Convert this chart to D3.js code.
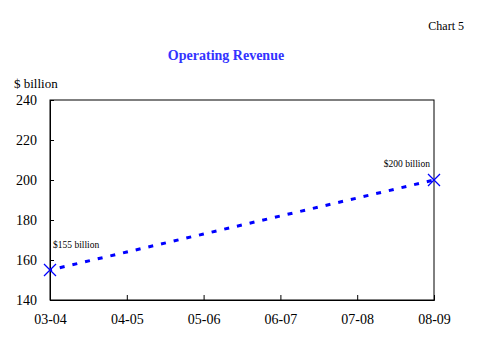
<!DOCTYPE html>
<html>
<head>
<meta charset="utf-8">
<script src="https://cdn.jsdelivr.net/npm/d3@7"></script>
<style>
  body { margin: 0; background: #fff; }
  svg text { font-family: "Liberation Serif", "Times New Roman", serif; }
</style>
</head>
<body>
<svg class="chart-svg" width="492" height="351"></svg>
<script>
// chart values
var years = ["03-04", "04-05", "05-06", "06-07", "07-08", "08-09"]
var revenue = [155, 164, 173, 182, 191, 200]
var yTicks = [140, 160, 180, 200, 220, 240]
var endLabels = ["$155 billion", "$200 billion"]

var svg = d3.select(".chart-svg")
var margin = { left: 50, top: 100, right: 58, bottom: 51 }
var width = 492 - margin.left - margin.right
var height = 351 - margin.top - margin.bottom

var xScale = d3.scalePoint().domain(years).range([0, width])
var yScale = d3.scaleLinear().domain([140, 240]).range([height, 0])

var g = svg.append("g")
  .attr("transform", "translate(" + margin.left + "," + margin.top + ")")

// frame
g.append("rect")
  .attr("width", width).attr("height", height)
  .attr("fill", "none").attr("stroke", "#000").attr("stroke-width", 1)

// axes, ticks point inwards
var x_axis = d3.axisBottom(xScale).tickSize(-5).tickPadding(14)
var gx = g.append("g").attr("transform", "translate(0," + height + ")").call(x_axis)

var y_axis = d3.axisLeft(yScale).tickValues(yTicks).tickSize(-4).tickPadding(13)
var gy = g.append("g").call(y_axis)

gx.attr("font-family", "Liberation Serif").attr("font-size", 14)
gy.attr("font-family", "Liberation Serif").attr("font-size", 14)
g.selectAll(".domain").attr("stroke", "#000")
g.selectAll(".tick line").attr("stroke", "#000")
g.selectAll(".tick text").attr("fill", "#000")

// the line
var line = d3.line()
  .x(function (d, i) { return xScale(years[i]) })
  .y(function (d) { return yScale(d) })

g.append("path")
  .datum(revenue)
  .attr("fill", "none")
  .attr("stroke", "#0000ff")
  .attr("stroke-width", 3)
  .attr("stroke-dasharray", "5,8")
  .attr("stroke-dashoffset", -10)
  .attr("d", line)

// end markers
var ends = [0, revenue.length - 1]
ends.forEach(function (i) {
  var cx = xScale(years[i]), cy = yScale(revenue[i])
  g.append("path")
    .attr("d", "M" + (cx - 6) + "," + (cy - 6) + "L" + (cx + 6) + "," + (cy + 6) +
               "M" + (cx - 6) + "," + (cy + 6) + "L" + (cx + 6) + "," + (cy - 6))
    .attr("stroke", "#0000ff").attr("stroke-width", 1.3).attr("fill", "none")
})

g.append("text")
  .attr("x", xScale(years[0]) + 3).attr("y", yScale(revenue[0]) - 22)
  .style("font-size", "9.5px").text(endLabels[0])
g.append("text")
  .attr("x", xScale(years[5]) - 4).attr("y", yScale(revenue[5]) - 13)
  .attr("text-anchor", "end")
  .style("font-size", "9.5px").text(endLabels[1])

// titles
svg.append("text").attr("x", 464).attr("y", 30).attr("text-anchor", "end")
  .style("font-size", "12px").text("Chart 5")
svg.append("text").attr("x", 226).attr("y", 60).attr("text-anchor", "middle")
  .style("font-size", "14px").style("font-weight", "bold").attr("fill", "#3333ff")
  .text("Operating Revenue")
svg.append("text").attr("x", 14).attr("y", 88)
  .style("font-size", "13px").text("$ billion")
</script>
</body>
</html>
